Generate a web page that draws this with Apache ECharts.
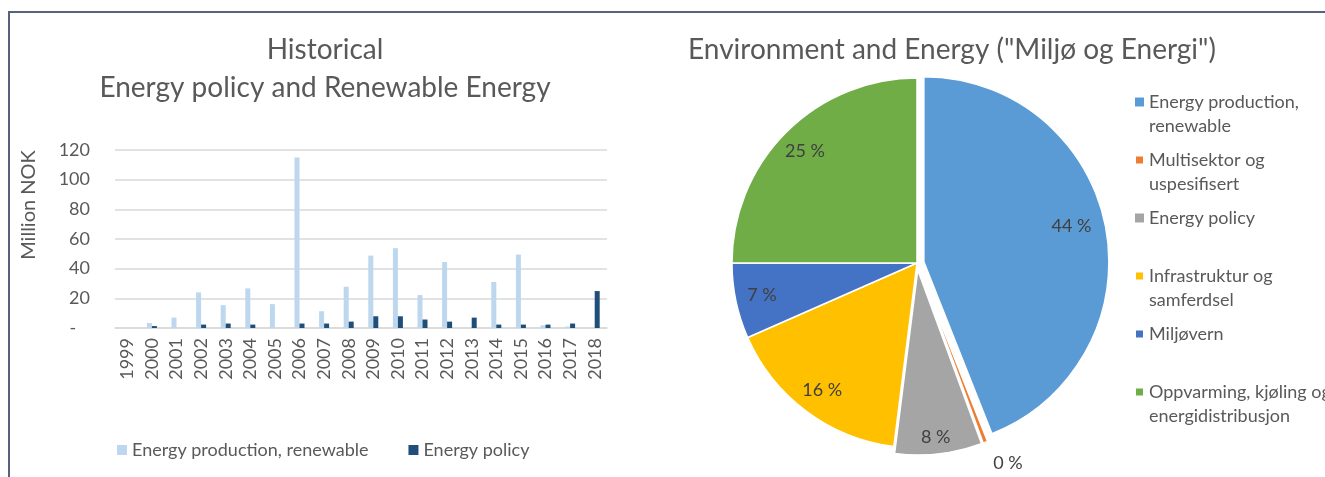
<!DOCTYPE html>
<html>
<head>
<meta charset="utf-8">
<script src="https://cdn.jsdelivr.net/npm/echarts@6/dist/echarts.min.js"></script>
<style>
html,body{margin:0;padding:0;background:#fff;}
#c{width:1325px;height:477px;}
</style>
</head>
<body>
<div id="c"></div>
<script>
// ---- Data ----
const years = ['1999','2000','2001','2002','2003','2004','2005','2006','2007','2008','2009','2010','2011','2012','2013','2014','2015','2016','2017','2018'];
const renewable = [0, 3.4, 7.0, 24.0, 15.4, 26.7, 16.1, 115, 11.3, 27.8, 48.8, 53.8, 22.2, 44.5, 0, 31, 49.5, 1.8, 1.0, 0];
const policy = [0, 1.3, 0, 2.3, 3.0, 2.3, 0, 3.0, 3.0, 4.3, 7.9, 7.9, 5.7, 4.3, 7.0, 2.3, 2.3, 2.3, 3.0, 24.9];
const barSeriesNames = ['Energy production, renewable', 'Energy policy'];
const yTicks = [0, 20, 40, 60, 80, 100, 120];

const pieNames = ['Energy production, renewable', 'Multisektor og uspesifisert', 'Energy policy', 'Infrastruktur og samferdsel', 'Miljøvern', 'Oppvarming, kjøling og energidistribusjon'];
const pieShares = [44.0, 0.4, 7.6, 16.4, 6.6, 25.0];
const pieExploded = [true, true, true, false, false, false];
const pieLegendText = {
  'Energy production, renewable': 'Energy production,\nrenewable',
  'Multisektor og uspesifisert': 'Multisektor og\nuspesifisert',
  'Energy policy': 'Energy policy\n',
  'Infrastruktur og samferdsel': 'Infrastruktur og\nsamferdsel',
  'Miljøvern': 'Miljøvern\n',
  'Oppvarming, kjøling og energidistribusjon': 'Oppvarming, kjøling og\nenergidistribusjon'
};

const barColors = ['#bdd7ee', '#1f4e79'];
const pieColors = ['#5b9bd5', '#ed7d31', '#a5a5a5', '#ffc000', '#4472c4', '#70ad47'];
const FONT = 'Lato';
const TXT = '#595959';
// small label nudges (px) per pie slice
const labelNudge = { 0: [-8, -6], 2: [0, 10] };

const chart = echarts.init(document.getElementById('c'));
const R = 185, CX = 917, CY = 263;

const option = {
  animation: false,
  backgroundColor: '#fff',
  textStyle: { fontFamily: FONT },
  title: [
    { text: 'Historical\nEnergy policy and Renewable Energy', left: 320, top: 26, textAlign: 'center',
      textStyle: { fontFamily: FONT, fontSize: 28, fontWeight: 'normal', color: TXT, lineHeight: 38 } },
    { text: 'Environment and Energy ("Miljø og Energi")', left: 947, top: 26, textAlign: 'center',
      textStyle: { fontFamily: FONT, fontSize: 28, fontWeight: 'normal', color: TXT, lineHeight: 38 } }
  ],
  legend: [
    { data: barSeriesNames, left: 112, top: 436, itemWidth: 10, itemHeight: 10, itemGap: 40, icon: 'rect',
      textStyle: { fontFamily: FONT, fontSize: 18, color: TXT } },
    { data: pieNames.map((n, i) => ({ name: n, itemStyle: { color: pieColors[i] } })),
      orient: 'vertical', left: 1129, top: 85, itemGap: 10,
      icon: 'path://M0,0H10V10H0Z M0,36.7', itemWidth: 9, itemHeight: 33,
      formatter: n => pieLegendText[n] || n,
      textStyle: { fontFamily: FONT, fontSize: 18, color: TXT, lineHeight: 24 } }
  ],
  grid: { left: 115, right: 718, top: 150, bottom: 149, containLabel: false },
  xAxis: {
    type: 'category', data: years,
    axisTick: { show: false },
    axisLine: { lineStyle: { color: '#d9d9d9', width: 1.5 } },
    axisLabel: { rotate: 90, interval: 0, margin: 10, fontFamily: FONT, fontSize: 18, color: TXT }
  },
  yAxis: {
    type: 'value', min: yTicks[0], max: yTicks[yTicks.length - 1], interval: yTicks[1] - yTicks[0],
    name: 'Million NOK', nameLocation: 'middle', nameGap: 76,
    nameTextStyle: { fontFamily: FONT, fontSize: 20, color: TXT, padding: [0, 0, 0, 68] },
    axisLine: { show: false }, axisTick: { show: false },
    splitLine: { lineStyle: { color: '#d9d9d9', width: 1.5 } },
    axisLabel: { margin: 25, fontFamily: FONT, fontSize: 18, color: TXT,
      formatter: v => v === 0 ? '-   ' : String(v) }
  },
  series: [
    { name: barSeriesNames[0], type: 'bar', data: renewable, barWidth: 5, barGap: '0%',
      itemStyle: { color: barColors[0] } },
    { name: barSeriesNames[1], type: 'bar', data: policy, barWidth: 5, barGap: '0%',
      itemStyle: { color: barColors[1] } },
    { name: 'pie', type: 'pie', center: [CX, CY], radius: [0, R], startAngle: 90, clockwise: true,
      selectedMode: 'multiple', selectedOffset: 7,
      label: { show: false }, labelLine: { show: false },
      itemStyle: { borderColor: '#fff', borderWidth: 1.5 },
      data: pieNames.map((n, i) => ({ name: n, value: pieShares[i], selected: pieExploded[i],
        itemStyle: { color: pieColors[i] } })) },
    { name: 'pieLabels', type: 'pie', z: 5, center: [CX, CY], radius: [126, R], startAngle: 90, clockwise: true,
      silent: true, legendHoverLink: false, selectedMode: 'multiple', selectedOffset: 7,
      itemStyle: { color: 'rgba(0,0,0,0)', borderWidth: 0 },
      labelLine: { show: false },
      label: { show: true, position: 'inside', fontFamily: FONT, fontSize: 18, color: '#404040',
        formatter: p => Math.round(p.percent) + ' %' },
      labelLayout: p => {
        const n = labelNudge[p.dataIndex];
        return n ? { dx: n[0], dy: n[1] } : {};
      },
      data: pieNames.map((n, i) => {
        const d = { name: n, value: pieShares[i], selected: pieExploded[i] };
        if (pieShares[i] < 1) {
          d.label = { position: 'outside', distanceToLabelLine: 0 };
          d.labelLine = { show: false, length: 22, length2: 0 };
        }
        return d;
      }) }
  ],
  graphic: [
    { type: 'line', shape: { x1: 8, y1: 12, x2: 1325, y2: 12 }, style: { stroke: '#56637a', lineWidth: 2 } },
    { type: 'line', shape: { x1: 9, y1: 12, x2: 9, y2: 477 }, style: { stroke: '#56637a', lineWidth: 2 } }
  ]
};
chart.setOption(option);
</script>
</body>
</html>
